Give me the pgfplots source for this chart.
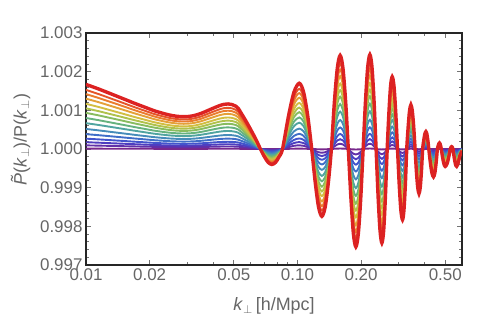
\documentclass[border=0pt]{standalone}
\usepackage{fontspec}
\setmainfont{Liberation Sans}
\usepackage{pgfplots}
\usepackage{pgfplotstable}
\pgfplotsset{compat=1.18}
\definecolor{c0}{RGB}{120,40,140}
\definecolor{c1}{RGB}{98,48,168}
\definecolor{c2}{RGB}{78,62,192}
\definecolor{c3}{RGB}{66,84,204}
\definecolor{c4}{RGB}{64,110,200}
\definecolor{c5}{RGB}{70,140,186}
\definecolor{c6}{RGB}{80,164,160}
\definecolor{c7}{RGB}{102,178,126}
\definecolor{c8}{RGB}{136,188,95}
\definecolor{c9}{RGB}{176,194,76}
\definecolor{c10}{RGB}{210,190,66}
\definecolor{c11}{RGB}{228,160,56}
\definecolor{c12}{RGB}{234,124,46}
\definecolor{c13}{RGB}{229,84,40}
\definecolor{c14}{RGB}{220,34,34}
% deviation of the outermost (red) curve, in units of 1e-3: ratio = 1 + d/1000
\pgfplotstableread{
k d
0.0100 1.67
0.0115 1.55
0.0130 1.435
0.0150 1.30
0.0170 1.18
0.0190 1.08
0.0210 0.99
0.0230 0.925
0.0250 0.875
0.0270 0.845
0.0290 0.835
0.0310 0.845
0.0330 0.875
0.0350 0.92
0.0370 0.975
0.0390 1.03
0.0410 1.08
0.0430 1.125
0.0450 1.155
0.0470 1.165
0.0490 1.15
0.0510 1.11
0.0525 1.05
0.0540 0.94
0.0560 0.80
0.0580 0.655
0.0600 0.51
0.0620 0.365
0.0640 0.22
0.0668 0.0
0.0698 -0.20
0.0727 -0.346
0.0757 -0.40
0.0788 -0.346
0.0819 -0.20
0.0850 0.0
0.0907 0.85
0.0963 1.472
0.1020 1.70
0.1069 1.472
0.1119 0.85
0.1168 0.0
0.1214 -0.87
0.1259 -1.507
0.1305 -1.74
0.1352 -1.507
0.1400 -0.87
0.1447 0.0
0.1495 1.21
0.1544 2.096
0.1592 2.42
0.1641 2.096
0.1691 1.21
0.1740 0.0
0.1790 -1.265
0.1839 -2.19
0.1889 -2.53
0.1941 -2.19
0.1993 -1.265
0.2045 0.0
0.2097 1.22
0.2149 2.113
0.2201 2.44
0.2252 2.113
0.2304 1.22
0.2355 0.0
0.2406 -1.215
0.2457 -2.104
0.2508 -2.43
0.2558 -2.104
0.2607 -1.215
0.2657 0.0
0.2707 0.935
0.2756 1.62
0.2806 1.87
0.2862 1.62
0.2917 0.935
0.2973 0.0
0.3029 -0.915
0.3084 -1.585
0.3140 -1.83
0.3189 -1.585
0.3239 -0.915
0.3288 0.0
0.3339 0.57
0.3389 0.987
0.3440 1.14
0.3493 0.987
0.3547 0.57
0.3600 0.0
0.3652 -0.575
0.3705 -0.996
0.3757 -1.15
0.3808 -0.996
0.3859 -0.575
0.3910 0.0
0.3957 0.225
0.4003 0.39
0.4050 0.45
0.4093 0.39
0.4137 0.225
0.4180 0.0
0.4253 -0.36
0.4327 -0.624
0.4400 -0.72
0.4463 -0.624
0.4527 -0.36
0.4590 0.0
0.4625 0.078
0.4660 0.134
0.4695 0.155
0.4727 0.134
0.4758 0.078
0.4790 0.0
0.4860 -0.225
0.4930 -0.39
0.5000 -0.45
0.5093 -0.39
0.5187 -0.225
0.5280 0.0
0.5307 0.03
0.5333 0.052
0.5360 0.06
0.5387 0.052
0.5413 0.03
0.5440 0.0
0.5513 -0.225
0.5587 -0.39
0.5660 -0.45
0.5760 -0.36
0.5860 -0.18
0.6000 -0.05
}\redcurve
\begin{document}
\begin{tikzpicture}
\begin{axis}[
  scale only axis, width=376bp, height=232bp,
  xmode=log, xmin=0.01, xmax=0.6,
  ymin=-3, ymax=3,
  xtick={0.01,0.02,0.05,0.1,0.2,0.5},
  xticklabels={0.01,0.02,0.05,0.10,0.20,0.50},
  minor xtick={0.03,0.04,0.06,0.07,0.08,0.09,0.3,0.4,0.6},
  ytick={-3,-2,-1,0,1,2,3},
  yticklabels={0.997,0.998,0.999,1.000,1.001,1.002,1.003},
  minor ytick={-2.8,-2.6,-2.4,-2.2,-1.8,-1.6,-1.4,-1.2,-0.8,-0.6,-0.4,-0.2,0.2,0.4,0.6,0.8,1.2,1.4,1.6,1.8,2.2,2.4,2.6,2.8},
  tick align=inside,
  major tick length=5bp, minor tick length=3bp,
  every tick/.style={black!55, line width=0.6bp},
  axis line style={black!85, line width=1.1bp},
  tick label style={font=\fontsize{17}{17}\selectfont, text=black!60},
  label style={font=\fontsize{18}{18}\selectfont, text=black!60},
  xlabel={\textit{k}$_\perp$\,[h/Mpc]},
  ylabel={\textit{\~P}(\textit{k}$_\perp$)/P(\textit{k}$_\perp$)},
  xlabel style={at={(axis description cs:0.5,-0.177)}, anchor=center},
  ylabel style={at={(axis description cs:-0.174,0.54)}, anchor=center},
]
\addplot[c0, line width=1.9bp, smooth] table[x=k, y expr=0.005*\thisrow{d}] {\redcurve};
\addplot[c1, line width=1.9bp, smooth] table[x=k, y expr=0.056*\thisrow{d}] {\redcurve};
\addplot[c2, line width=1.9bp, smooth] table[x=k, y expr=0.105*\thisrow{d}] {\redcurve};
\addplot[c3, line width=1.9bp, smooth] table[x=k, y expr=0.16*\thisrow{d}] {\redcurve};
\addplot[c4, line width=1.9bp, smooth] table[x=k, y expr=0.23*\thisrow{d}] {\redcurve};
\addplot[c5, line width=1.9bp, smooth] table[x=k, y expr=0.31*\thisrow{d}] {\redcurve};
\addplot[c6, line width=1.9bp, smooth] table[x=k, y expr=0.40*\thisrow{d}] {\redcurve};
\addplot[c7, line width=1.9bp, smooth] table[x=k, y expr=0.48*\thisrow{d}] {\redcurve};
\addplot[c8, line width=1.9bp, smooth] table[x=k, y expr=0.56*\thisrow{d}] {\redcurve};
\addplot[c9, line width=1.9bp, smooth] table[x=k, y expr=0.63*\thisrow{d}] {\redcurve};
\addplot[c10, line width=1.9bp, smooth] table[x=k, y expr=0.70*\thisrow{d}] {\redcurve};
\addplot[c11, line width=1.9bp, smooth] table[x=k, y expr=0.78*\thisrow{d}] {\redcurve};
\addplot[c12, line width=1.9bp, smooth] table[x=k, y expr=0.85*\thisrow{d}] {\redcurve};
\addplot[c13, line width=1.9bp, smooth] table[x=k, y expr=0.915*\thisrow{d}] {\redcurve};
\addplot[c14, line width=3.4bp, smooth] table[x=k, y=d] {\redcurve};
\end{axis}
\path ([shift={(-86bp,-53bp)}]current axis.south west) rectangle ([shift={(29bp,33bp)}]current axis.north east);
\end{tikzpicture}
\end{document}
